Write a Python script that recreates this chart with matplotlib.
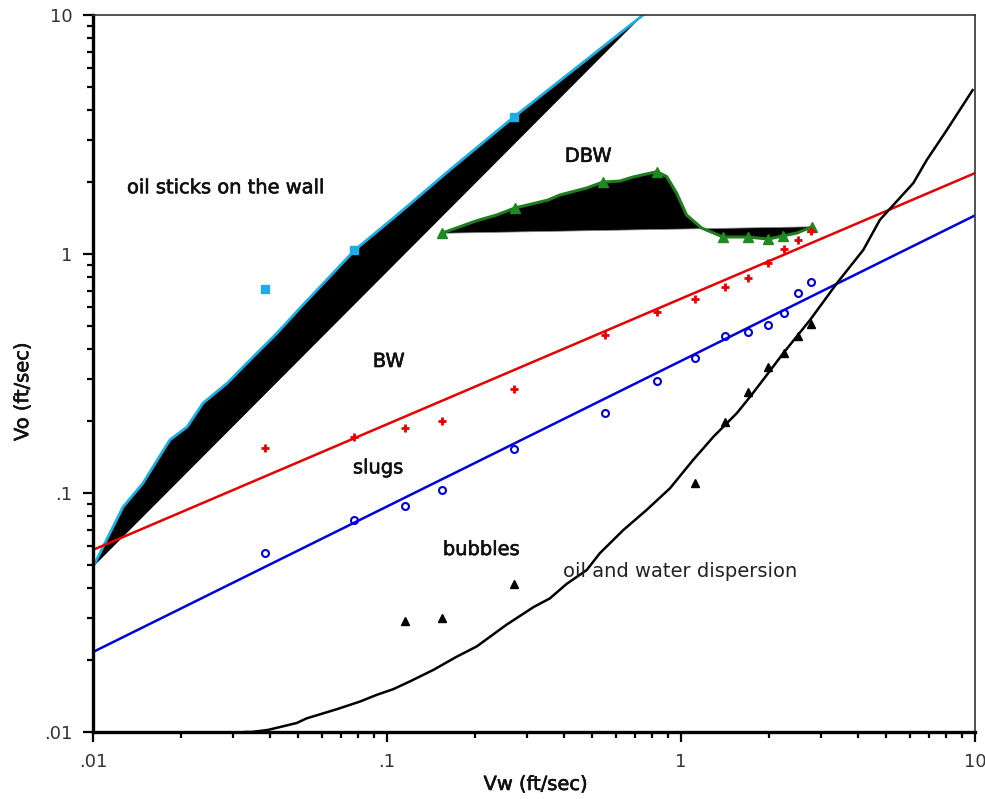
import numpy as np
import matplotlib.pyplot as plt
import matplotlib.patheffects as pe
from matplotlib.ticker import FixedLocator, FixedFormatter, LogLocator, NullFormatter

plt.rcParams['font.family'] = ['DejaVu Sans']

# measured water velocities (ft/sec)
vw = [0.0385, 0.077, 0.115, 0.154, 0.27, 0.55, 0.83, 1.12, 1.41, 1.69, 1.98, 2.24, 2.5, 2.77]
slug_vo = [0.154, 0.171, 0.187, 0.200, 0.272, 0.458, 0.572, 0.648, 0.728, 0.794, 0.917, 1.05, 1.145, 1.25]
bubble_vo = [0.0561, 0.0771, 0.0883, 0.103, 0.153, 0.216, 0.294, 0.367, 0.454, 0.472, 0.505, 0.566, 0.687, 0.763]

disp_vw = [0.115, 0.154, 0.27, 1.12, 1.41, 1.69, 1.98, 2.24, 2.5, 2.77]
disp_vo = [0.0291, 0.0299, 0.0415, 0.110, 0.199, 0.265, 0.338, 0.385, 0.455, 0.509]

wall_vw = [0.0385, 0.077, 0.27]
wall_vo = [0.714, 1.04, 3.74]

# fitted boundaries (end points)
fit_vw = [0.01, 10]
slug_fit = [0.0578, 2.18]
bubble_fit = [0.0216, 1.45]

# oil-sticks-on-wall boundary
wall_cx = [0.01, 0.01265, 0.0148, 0.01653, 0.01828, 0.0209, 0.0237, 0.0286, 0.0342, 0.0423,
           0.0506, 0.0778, 0.1107, 0.1637, 0.270, 0.453, 0.743]
wall_cy = [0.049, 0.0873, 0.110, 0.137, 0.167, 0.189, 0.238, 0.288, 0.360, 0.467,
           0.594, 1.04, 1.49, 2.25, 3.74, 6.18, 10.0]

# DBW boundary
dbw_cx = [0.1535, 0.2018, 0.236, 0.272, 0.353, 0.387, 0.478, 0.543, 0.621, 0.687, 0.827,
          0.894, 0.966, 1.045, 1.175, 1.39, 1.69, 1.98, 2.22, 2.48, 2.79]
dbw_cy = [1.221, 1.378, 1.456, 1.557, 1.682, 1.765, 1.889, 2.0, 2.02, 2.10, 2.21,
          2.11, 1.80, 1.456, 1.285, 1.178, 1.178, 1.155, 1.19, 1.224, 1.30]
dbw_px = [0.1535, 0.272, 0.543, 0.827, 1.39, 1.69, 1.98, 2.22, 2.79]
dbw_py = [1.221, 1.557, 2.0, 2.21, 1.178, 1.178, 1.155, 1.19, 1.30]

# oil and water dispersion boundary
disp_cx = [0.033, 0.0347, 0.0394, 0.0493, 0.0533, 0.0675, 0.0809, 0.0923, 0.105, 0.120, 0.144,
           0.172, 0.202, 0.255, 0.315, 0.358, 0.408, 0.478, 0.530, 0.637, 0.764, 0.918,
           1.10, 1.29, 1.55, 1.72, 1.96, 2.23, 2.75, 3.39, 4.17, 4.75, 6.17, 6.85, 8.02, 9.82]
disp_cy = [0.0100, 0.0100, 0.0102, 0.0109, 0.0114, 0.01245, 0.0134, 0.0143, 0.0151, 0.0163, 0.0182,
           0.0206, 0.0228, 0.0281, 0.0333, 0.0362, 0.0416, 0.0476, 0.0560, 0.070, 0.0849, 0.1047,
           0.1375, 0.172, 0.216, 0.253, 0.312, 0.385, 0.530, 0.754, 1.04, 1.39, 1.98, 2.47, 3.30, 4.85]

fig = plt.figure(figsize=(9.85, 7.99), dpi=100)
ax = fig.add_axes([0.0944, 0.0839, 0.8954, 0.8973])
ax.set_xscale('log')
ax.set_yscale('log')
ax.set_xlim(0.01, 10)
ax.set_ylim(0.01, 10)

ax.fill(wall_cx, wall_cy, color='black', lw=0)
ax.plot(wall_cx, wall_cy, color='#1aaee6', lw=2)
ax.plot(wall_vw, wall_vo, 's', color='#1aaee6', ms=6)

ax.fill(dbw_cx, dbw_cy, color='black', lw=0.5, ec='#888888')
ax.plot(dbw_cx, dbw_cy, color='#1f7d1f', lw=2.2)
ax.plot(dbw_px, dbw_py, '^', color='#1f8a1f', ms=7)

ax.plot(fit_vw, slug_fit, color='#e60000', lw=1.8)
ax.plot(vw, slug_vo, '+', color='#e60000', ms=6, mew=2)

ax.plot(fit_vw, bubble_fit, color='#0000dd', lw=1.8)
ax.plot(vw, bubble_vo, 'o', mfc='none', mec='#0000dd', ms=5, mew=1.5)

ax.plot(disp_cx, disp_cy, color='black', lw=1.8)
ax.plot(disp_vw, disp_vo, '^', color='black', ms=6)

bold = [pe.withStroke(linewidth=0.45, foreground='#111111')]
lab = dict(fontsize=14, va='baseline', ha='left', color='#111111', path_effects=bold)
ax.text(0.01305, 1.795, 'oil sticks on the wall', **lab)
ax.text(0.4027, 2.43, 'DBW', **lab)
ax.text(0.0895, 0.3366, 'BW', **lab)
ax.text(0.0766, 0.1208, 'slugs', **lab)
ax.text(0.1549, 0.0550, 'bubbles', **lab)
ax.text(0.396, 0.0447, 'oil and water dispersion', fontsize=14, va='baseline', ha='left', color='#222222')

for a in (ax.xaxis, ax.yaxis):
    a.set_major_locator(FixedLocator([0.01, 0.1, 1, 10]))
    a.set_major_formatter(FixedFormatter(['.01', '.1', '1', '10']))
    a.set_minor_locator(LogLocator(base=10, subs=np.arange(2, 10)))
    a.set_minor_formatter(NullFormatter())

ax.tick_params(which='both', direction='out', width=1.6, labelsize=13, colors='black')
ax.tick_params(which='major', length=7, pad=8)
ax.tick_params(which='minor', length=4)
for lbl in ax.get_xticklabels() + ax.get_yticklabels():
    lbl.set_color('#333333')

ax.spines['left'].set_linewidth(2.4)
ax.spines['bottom'].set_linewidth(2.4)
ax.spines['top'].set_linewidth(1.2)
ax.spines['right'].set_linewidth(1.2)
ax.spines['top'].set_color('#333333')
ax.spines['right'].set_color('#333333')

fig.text(0.544, 0.0113, 'Vw (ft/sec)', ha='center', va='baseline', fontsize=14,
         color='#111111', path_effects=bold)
fig.text(0.023, 0.51, 'Vo (ft/sec)', ha='center', va='center', rotation=90, fontsize=14,
         color='#111111', path_effects=bold)

fig.savefig('out.png', dpi=100)
